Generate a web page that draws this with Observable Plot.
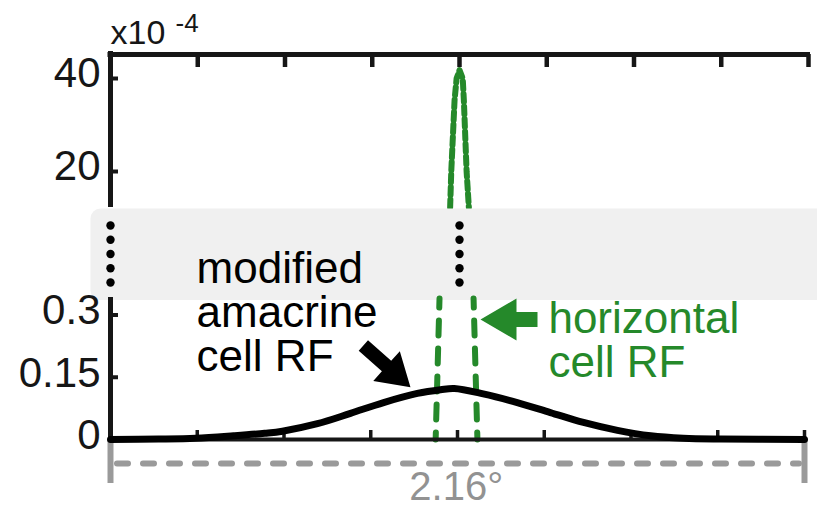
<!DOCTYPE html>
<html>
<head>
<meta charset="utf-8">
<script src="https://cdn.jsdelivr.net/npm/d3@7"></script>
<script src="https://cdn.jsdelivr.net/npm/@observablehq/plot@0.6"></script>
<style>
  html, body { margin: 0; padding: 0; background: #fff; }
  #chart { position: relative; width: 817px; height: 508px; overflow: hidden; background: #fff; }
  #chart > div, #chart > svg { position: absolute; left: 0; }
</style>
</head>
<body>
<div id="chart"></div>
<script>
// ---------- data ----------
const xDomain = [0, 2.16];                       // degrees
const xTicks = [0, 0.27, 0.54, 0.81, 1.08, 1.35, 1.62, 1.89, 2.16];
const upperYTicks = [20, 40];                    // x10^-4
const lowerYTicks = [0, 0.15, 0.3];
const upperYDomain = [12.26, 45.16];
const lowerYDomain = [0, 0.3398];

// modified amacrine cell RF (black curve)
const amacrineX = [0, 0.15, 0.265, 0.383, 0.48, 0.535, 0.644, 0.747, 0.85, 0.955, 1.027, 1.07, 1.16, 1.266, 1.369, 1.472, 1.578, 1.681, 1.783, 1.9, 2.16];
const amacrineY = [0, 0.001, 0.003, 0.009, 0.015, 0.020, 0.038, 0.063, 0.089, 0.111, 0.120, 0.123, 0.110, 0.089, 0.065, 0.041, 0.022, 0.009, 0.003, 0.001, 0];

// horizontal cell RF (green dashed) - upper panel (x10^-4)
const horizUpperX = [1.051, 1.0545, 1.0647, 1.071, 1.080, 1.090, 1.0935, 1.102, 1.109];
const horizUpperY = [12.26, 20, 35.3, 40, 41.8, 40, 35.3, 20, 12.26];
// lower panel (two flanks leaving the top)
const horizLowerX = [1.012, 1.024, 1.142, 1.130];
const horizLowerY = [0, 0.3398, 0, 0.3398];
const horizLowerSide = ["left", "left", "right", "right"];

// break indicators
const breakX = [0, 1.08];
const breakRows = [0, 1, 2, 3, 4];

const scaleLabel = "2.16°";
const expBase = "x10";
const expPower = "-4";
const amacrineLabel = "modified\namacrine\ncell RF";
const horizLabel = "horizontal\ncell RF";

// ---------- tables ----------
const amacrine = amacrineX.map((x, i) => ({x, y: amacrineY[i]}));
const horizUpper = horizUpperX.map((x, i) => ({x, y: horizUpperY[i]}));
const horizLower = horizLowerX.map((x, i) => ({x, y: horizLowerY[i], side: horizLowerSide[i]}));
const breakDots = breakX.flatMap(x => breakRows.map(r => ({x, r})));

const FONT = "'Liberation Sans', Arial, Helvetica, sans-serif";
const INK = "#161616";
const GREEN = "#25892a";
const GREY = "#9a9a9a";
const W = 817;

const arrowShape = (shaft, head, headLen) => ({
  draw(ctx, l) {
    const hs = shaft / 2, hh = head / 2, b = -l + headLen;
    ctx.moveTo(-hs, 0);
    ctx.lineTo(-hs, b);
    ctx.lineTo(-hh, b);
    ctx.lineTo(0, -l);
    ctx.lineTo(hh, b);
    ctx.lineTo(hs, b);
    ctx.lineTo(hs, 0);
    ctx.closePath();
  }
});

// ---------- upper panel ----------
const upper = Plot.plot({
  width: W, height: 208,
  marginLeft: 110, marginRight: 9, marginTop: 54, marginBottom: 1,
  x: {domain: xDomain, axis: null},
  y: {domain: upperYDomain, axis: null},
  style: {fontFamily: FONT, background: "transparent", overflow: "visible", color: INK},
  marks: [
    Plot.line(horizUpper, {x: "x", y: "y", stroke: GREEN, strokeWidth: 6, strokeDasharray: "8,4.5"}),
    Plot.ruleX(xTicks, {stroke: INK, strokeWidth: 4.5, insetBottom: 140}),
    Plot.ruleY(upperYTicks, {stroke: INK, strokeWidth: 4, insetRight: 690}),
    Plot.ruleY([upperYDomain[1]], {stroke: INK, strokeWidth: 5, insetLeft: -2.5, insetRight: -2}),
    Plot.ruleX([xDomain[0]], {stroke: INK, strokeWidth: 5, insetTop: -3}),
    Plot.text(upperYTicks, {y: d => d, text: d => String(d), frameAnchor: "left", lineAnchor: "middle", dx: -10, dy: -5, textAnchor: "end", fontSize: 42, fill: INK}),
    Plot.text([expBase], {frameAnchor: "top-left", lineAnchor: "middle", dx: 0, dy: -21.5, textAnchor: "start", fontSize: 34, fill: INK}),
    Plot.text([expPower], {frameAnchor: "top-left", lineAnchor: "middle", dx: 65, dy: -31, textAnchor: "start", fontSize: 26, fill: INK})
  ]
});
upper.style.top = "0px";

// ---------- break band ----------
const band = Plot.plot({
  width: W, height: 92,
  marginLeft: 110, marginRight: 9, marginTop: 17, marginBottom: 18,
  x: {domain: xDomain, axis: null},
  y: {domain: [0, 4], axis: null},
  style: {background: "transparent", overflow: "hidden"},
  marks: [
    Plot.frame({fill: "#f0f0f0", stroke: null, rx: 10, insetLeft: -20, insetRight: -30, insetTop: -17, insetBottom: -18}),
    Plot.dot(breakDots, {x: "x", y: "r", r: 4.2, fill: "#000", stroke: null})
  ]
});
band.style.top = "208px";

// ---------- lower panel ----------
const lower = Plot.plot({
  width: W, height: 300,
  marginLeft: 110, marginRight: 13, marginTop: 90, marginBottom: 69,
  x: {domain: xDomain, axis: null},
  y: {domain: lowerYDomain, axis: null},
  style: {fontFamily: FONT, background: "transparent", overflow: "visible", color: INK},
  marks: [
    Plot.ruleX([xDomain[0], xDomain[1]], {stroke: GREY, strokeWidth: 6, insetTop: 141, insetBottom: -44}),
    Plot.ruleY([0], {dy: 24, stroke: GREY, strokeWidth: 6, strokeDasharray: "11,15", strokeLinecap: "round", insetLeft: 7, insetRight: 5}),
    Plot.text([scaleLabel], {x: d3.mean(xDomain) - 0.004, frameAnchor: "bottom", lineAnchor: "middle", dy: 48, fontSize: 40, fill: "#929292"}),
    Plot.line(horizLower, {x: "x", y: "y", z: "side", stroke: GREEN, strokeWidth: 6, strokeDasharray: "15,13", strokeDashoffset: 8}),
    Plot.ruleX(xTicks, {stroke: INK, strokeWidth: 3.5, insetTop: 132}),
    Plot.ruleY(lowerYTicks.slice(1), {stroke: INK, strokeWidth: 4, insetRight: 686}),
    Plot.ruleY([0], {stroke: INK, strokeWidth: 4}),
    Plot.ruleX([0], {stroke: INK, strokeWidth: 5, insetTop: -1, insetBottom: -2}),
    Plot.line(amacrine, {x: "x", y: "y", curve: "catmull-rom", stroke: "#000", strokeWidth: 7}),
    Plot.text(lowerYTicks, {y: d => d, text: d => String(d), frameAnchor: "left", lineAnchor: "middle", dx: -10, dy: -4, textAnchor: "end", fontSize: 42, fill: INK}),
    Plot.text([amacrineLabel], {x: 0.268, y: 0.4513, textAnchor: "start", lineAnchor: "top", lineHeight: 1.0, fontSize: 44, fill: "#000"}),
    Plot.text([horizLabel], {x: 1.363, y: 0.3308, textAnchor: "start", lineAnchor: "top", lineHeight: 1.0, fontSize: 44, fill: GREEN}),
    Plot.vector([{x: 0.787, y: 0.2265}], {x: "x", y: "y", length: 63, rotate: 131.6, anchor: "start", shape: arrowShape(14, 40, 32), fill: "#000", stroke: null}),
    Plot.vector([{x: 1.329, y: 0.289}], {x: "x", y: "y", length: 57, rotate: 270, anchor: "start", shape: arrowShape(15, 42, 36), fill: GREEN, stroke: null})
  ]
});
lower.style.top = "208px";

const chart = document.getElementById("chart");
chart.append(upper, band, lower);
</script>
</body>
</html>
